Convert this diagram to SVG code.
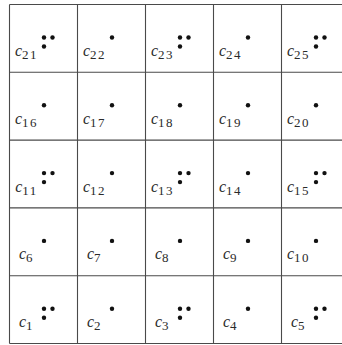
<svg xmlns="http://www.w3.org/2000/svg" width="342" height="345" viewBox="0 0 342 345">
<style>
.grid line{stroke:#4a4a4a;stroke-width:1.1}
.d{fill:#111}
.lb{font-family:"Liberation Serif","Times New Roman",serif;fill:#2a2a2a;text-anchor:middle}
.c{font-style:italic;font-size:16px}
.s{font-size:13px;letter-spacing:1.5px}
</style>
<defs>
<circle id="dot" r="2.2" class="d"/>
<g id="tri"><use href="#dot" x="34.5" y="33"/><use href="#dot" x="43" y="33"/><use href="#dot" x="34.5" y="42"/></g>
<g id="one"><use href="#dot" x="34.5" y="33"/></g>
</defs>
<rect x="0" y="0" width="342" height="345" fill="#fff"/>
<g class="grid">
<line x1="9.5" y1="4.5" x2="342" y2="4.5"/>
<line x1="9.5" y1="72.3" x2="342" y2="72.3"/>
<line x1="9.5" y1="140.1" x2="342" y2="140.1"/>
<line x1="9.5" y1="207.9" x2="342" y2="207.9"/>
<line x1="9.5" y1="275.7" x2="342" y2="275.7"/>
<line x1="9.5" y1="343.5" x2="342" y2="343.5"/>
<line x1="9.5" y1="4.5" x2="9.5" y2="343.5"/>
<line x1="77.5" y1="4.5" x2="77.5" y2="343.5"/>
<line x1="145.5" y1="4.5" x2="145.5" y2="343.5"/>
<line x1="213.5" y1="4.5" x2="213.5" y2="343.5"/>
<line x1="281.5" y1="4.5" x2="281.5" y2="343.5"/>
</g>
<g id="cells">
<g id="c21" transform="translate(9.5,4.5)"><use href="#tri"/><text class="lb" x="17" y="51.5"><tspan class="c">c</tspan><tspan class="s" dy="3">21</tspan></text></g>
<g id="c22" transform="translate(77.5,4.5)"><use href="#one"/><text class="lb" x="17" y="51.5"><tspan class="c">c</tspan><tspan class="s" dy="3">22</tspan></text></g>
<g id="c23" transform="translate(145.5,4.5)"><use href="#tri"/><text class="lb" x="17" y="51.5"><tspan class="c">c</tspan><tspan class="s" dy="3">23</tspan></text></g>
<g id="c24" transform="translate(213.5,4.5)"><use href="#one"/><text class="lb" x="17" y="51.5"><tspan class="c">c</tspan><tspan class="s" dy="3">24</tspan></text></g>
<g id="c25" transform="translate(281.5,4.5)"><use href="#tri"/><text class="lb" x="17" y="51.5"><tspan class="c">c</tspan><tspan class="s" dy="3">25</tspan></text></g>

<g id="c16" transform="translate(9.5,72.3)"><use href="#one"/><text class="lb" x="17" y="51.5"><tspan class="c">c</tspan><tspan class="s" dy="3">16</tspan></text></g>
<g id="c17" transform="translate(77.5,72.3)"><use href="#one"/><text class="lb" x="17" y="51.5"><tspan class="c">c</tspan><tspan class="s" dy="3">17</tspan></text></g>
<g id="c18" transform="translate(145.5,72.3)"><use href="#one"/><text class="lb" x="17" y="51.5"><tspan class="c">c</tspan><tspan class="s" dy="3">18</tspan></text></g>
<g id="c19" transform="translate(213.5,72.3)"><use href="#one"/><text class="lb" x="17" y="51.5"><tspan class="c">c</tspan><tspan class="s" dy="3">19</tspan></text></g>
<g id="c20" transform="translate(281.5,72.3)"><use href="#one"/><text class="lb" x="17" y="51.5"><tspan class="c">c</tspan><tspan class="s" dy="3">20</tspan></text></g>

<g id="c11" transform="translate(9.5,140.1)"><use href="#tri"/><text class="lb" x="17" y="51.5"><tspan class="c">c</tspan><tspan class="s" dy="3">11</tspan></text></g>
<g id="c12" transform="translate(77.5,140.1)"><use href="#one"/><text class="lb" x="17" y="51.5"><tspan class="c">c</tspan><tspan class="s" dy="3">12</tspan></text></g>
<g id="c13" transform="translate(145.5,140.1)"><use href="#tri"/><text class="lb" x="17" y="51.5"><tspan class="c">c</tspan><tspan class="s" dy="3">13</tspan></text></g>
<g id="c14" transform="translate(213.5,140.1)"><use href="#one"/><text class="lb" x="17" y="51.5"><tspan class="c">c</tspan><tspan class="s" dy="3">14</tspan></text></g>
<g id="c15" transform="translate(281.5,140.1)"><use href="#tri"/><text class="lb" x="17" y="51.5"><tspan class="c">c</tspan><tspan class="s" dy="3">15</tspan></text></g>

<g id="c6" transform="translate(9.5,207.9)"><use href="#one"/><text class="lb" x="17" y="51.5"><tspan class="c">c</tspan><tspan class="s" dy="3">6</tspan></text></g>
<g id="c7" transform="translate(77.5,207.9)"><use href="#one"/><text class="lb" x="17" y="51.5"><tspan class="c">c</tspan><tspan class="s" dy="3">7</tspan></text></g>
<g id="c8" transform="translate(145.5,207.9)"><use href="#one"/><text class="lb" x="17" y="51.5"><tspan class="c">c</tspan><tspan class="s" dy="3">8</tspan></text></g>
<g id="c9" transform="translate(213.5,207.9)"><use href="#one"/><text class="lb" x="17" y="51.5"><tspan class="c">c</tspan><tspan class="s" dy="3">9</tspan></text></g>
<g id="c10" transform="translate(281.5,207.9)"><use href="#one"/><text class="lb" x="17" y="51.5"><tspan class="c">c</tspan><tspan class="s" dy="3">10</tspan></text></g>

<g id="c1" transform="translate(9.5,275.7)"><use href="#tri"/><text class="lb" x="17" y="51.5"><tspan class="c">c</tspan><tspan class="s" dy="3">1</tspan></text></g>
<g id="c2" transform="translate(77.5,275.7)"><use href="#one"/><text class="lb" x="17" y="51.5"><tspan class="c">c</tspan><tspan class="s" dy="3">2</tspan></text></g>
<g id="c3" transform="translate(145.5,275.7)"><use href="#tri"/><text class="lb" x="17" y="51.5"><tspan class="c">c</tspan><tspan class="s" dy="3">3</tspan></text></g>
<g id="c4" transform="translate(213.5,275.7)"><use href="#one"/><text class="lb" x="17" y="51.5"><tspan class="c">c</tspan><tspan class="s" dy="3">4</tspan></text></g>
<g id="c5" transform="translate(281.5,275.7)"><use href="#tri"/><text class="lb" x="17" y="51.5"><tspan class="c">c</tspan><tspan class="s" dy="3">5</tspan></text></g>
</g>
</svg>
